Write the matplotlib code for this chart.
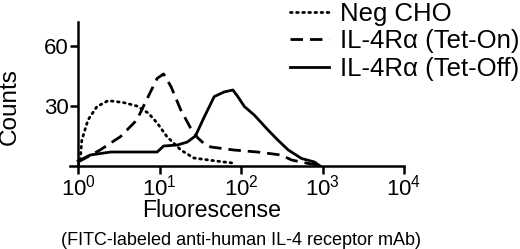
import matplotlib
matplotlib.use("Agg")
import matplotlib.pyplot as plt

plt.rcParams['font.family'] = ['Liberation Sans', 'DejaVu Sans']
plt.rcParams['mathtext.fontset'] = 'custom'
plt.rcParams['mathtext.rm'] = 'Liberation Sans'
plt.rcParams['mathtext.it'] = 'Liberation Sans'

# Neg CHO (dotted)
neg_x = [1.0, 1.06, 1.11, 1.32, 1.70, 2.34, 3.63, 5.25, 7.24, 9.33, 12.3, 18.2, 26.3, 39.8, 61.7, 79.4]
neg_y = [0, 3, 13, 23, 29.7, 32.7, 31.7, 30, 26.5, 21.5, 14.7, 8, 4, 3, 2, 1.5]

# IL-4Ra Tet-On (dashed)
on_x = [1.0, 1.86, 3.31, 5.25, 7.24, 9.33, 11.2, 13.8, 18.2, 24.0, 29.5, 35.5, 42.7, 81.3, 158, 309, 417, 661, 891]
on_y = [2, 8, 14.7, 23, 34.7, 43.8, 46, 39.7, 28, 19, 14, 11, 9.5, 8, 7, 5.5, 3, 1.3, 0.5]

# IL-4Ra Tet-Off (solid)
off_x = [1.0, 1.41, 2.51, 5.25, 9.33, 11.2, 16.6, 21.9, 27.5, 35.5, 46.8, 61.7, 79.4, 91.2, 110, 145, 214, 282, 380, 550, 794, 933]
off_y = [2.5, 5.5, 7, 7, 7, 10, 10.5, 12, 15, 24.7, 34.7, 37, 38, 34.7, 29.7, 25.5, 18, 13, 8, 3.8, 2, 0]

labels = ['Neg CHO', 'IL-4R\u03b1 (Tet-On)', 'IL-4R\u03b1 (Tet-Off)']
xticks = [1, 10, 100, 1000, 10000]
xticklabels = ['$10^0$', '$10^1$', '$10^2$', '$10^3$', '$10^4$']
yticks = [30, 60]

fig = plt.figure(figsize=(5.2, 2.49), dpi=100)
ax = fig.add_axes([70 / 520, 1 - 166 / 249, 334 / 520, 144 / 249])

lw = 2.0
ax.plot(neg_x, neg_y, color='black', lw=lw, linestyle=(0, (0.6, 1.6)), dash_capstyle='round', label=labels[0])
ax.plot(on_x, on_y, color='black', lw=lw, linestyle=(0, (4.5, 2.5)), label=labels[1])
ax.plot(off_x, off_y, color='black', lw=lw, linestyle='-', label=labels[2])

ax.set_xscale('log')
ax.set_xlim(10 ** -0.1, 10 ** 4)
ax.set_ylim(0, 72)
ax.spines['top'].set_visible(False)
ax.spines['right'].set_visible(False)
ax.spines['left'].set_position(('data', 1))
ax.spines['left'].set_linewidth(1.8)
ax.spines['bottom'].set_linewidth(1.8)

ax.set_xticks(xticks)
ax.set_xticklabels(xticklabels)
ax.xaxis.set_minor_locator(matplotlib.ticker.NullLocator())
ax.set_yticks(yticks)
ax.tick_params(axis='x', direction='out', length=6, width=1.8, labelsize=16, pad=0)
ax.tick_params(axis='y', direction='out', length=6, width=1.8, labelsize=16, pad=1)

fig.text(10 / 520, 1 - 107 / 249, 'Counts', rotation=90, ha='center', va='center', fontsize=17.5)
fig.text(212 / 520, 1 - 210 / 249, 'Fluorescense', ha='center', va='center', fontsize=16.7)
fig.text(241 / 520, 1 - 240 / 249, '(FITC-labeled anti-human IL-4 receptor mAb)', ha='center', va='center', fontsize=13)

fig.legend(loc='upper left', bbox_to_anchor=(280 / 520, 1.035), frameon=False, fontsize=18.5,
           handlelength=1.5, handletextpad=0.45, labelspacing=0.15, borderaxespad=0)

fig.savefig('out.png', dpi=100)
